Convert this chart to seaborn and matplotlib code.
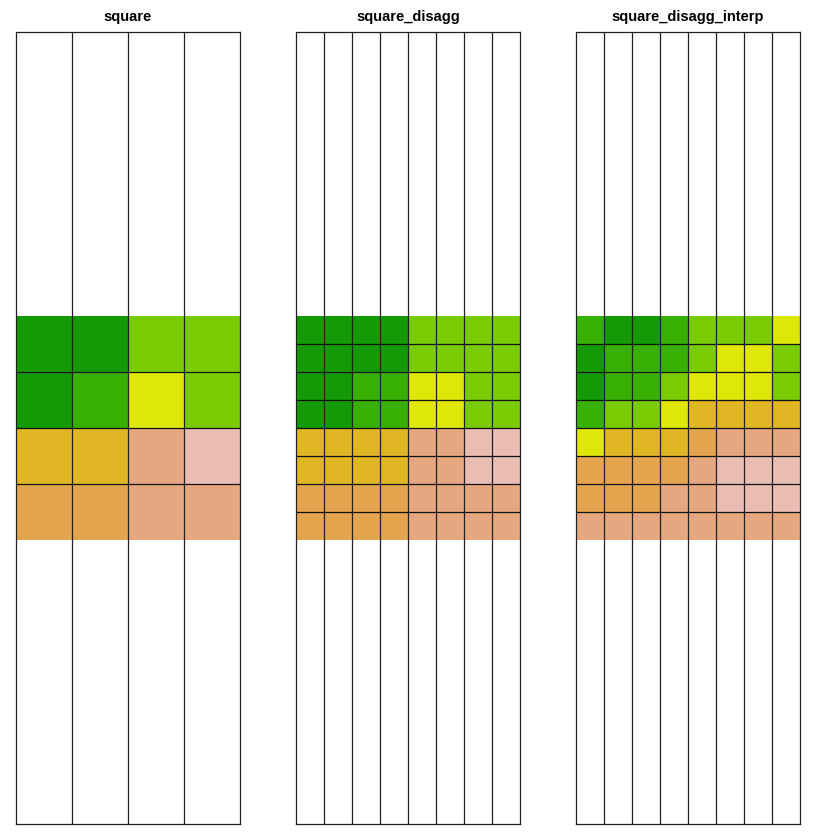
import numpy as np
import matplotlib
matplotlib.use('Agg')
import matplotlib.pyplot as plt
from matplotlib.colors import ListedColormap
import seaborn as sns

#### Data

titles = ['square', 'square_disagg', 'square_disagg_interp']

# class colours (terrain-like), index 0..7
class_colors = ['#149a04', '#37b003', '#7bcb04', '#dfe60a',
                '#e0b624', '#e5a44e', '#e6a67f', '#e9bcb4']

square = [
    [0, 0, 2, 2],
    [0, 1, 3, 2],
    [4, 4, 6, 7],
    [5, 5, 6, 6],
]

square_disagg_interp = [
    [1, 0, 0, 1, 2, 2, 2, 3],
    [0, 1, 1, 1, 2, 3, 3, 2],
    [0, 1, 1, 2, 3, 3, 3, 2],
    [1, 2, 2, 3, 4, 4, 4, 4],
    [3, 4, 4, 4, 5, 6, 6, 6],
    [5, 5, 5, 5, 6, 7, 7, 7],
    [5, 5, 5, 6, 6, 7, 7, 7],
    [6, 6, 6, 6, 6, 6, 6, 6],
]

# disaggregated = each cell split into 2x2
square_disagg = np.kron(np.array(square), np.ones((2, 2), dtype=int))

grids = [np.array(square), square_disagg, np.array(square_disagg_interp)]

#### Graphics

plt.rcParams['font.family'] = ['Liberation Sans', 'DejaVu Sans']
cmap = ListedColormap(class_colors)

fig = plt.figure(figsize=(8.4, 8.4), dpi=100)
W = 840.0
lefts = [16, 296, 576]

for left, title, grid in zip(lefts, titles, grids):
    ax = fig.add_axes([left / W, 16 / W, 224 / W, 792 / W])
    n = grid.shape[0]
    sns.heatmap(grid, ax=ax, cmap=cmap, vmin=-0.5, vmax=7.5, cbar=False,
                xticklabels=False, yticklabels=False, linewidths=0)
    # extra empty space above/below the raster (in cell units)
    extra = (792 - 224) / 2 / (224 / n)
    ax.set_ylim(n + extra, -extra)
    ax.set_xlim(0, grid.shape[1])
    ax.vlines(np.arange(1, grid.shape[1]), -extra, n + extra,
              color='#222222', lw=0.9)
    ax.hlines(np.arange(1, n), 0, grid.shape[1], color='#111111', lw=0.9)
    for s in ax.spines.values():
        s.set_visible(True)
        s.set_color('#222222')
        s.set_linewidth(0.9)
    ax.set_title(title, fontsize=10.5, fontweight='bold', pad=8)

plt.savefig('out.png', dpi=100)
